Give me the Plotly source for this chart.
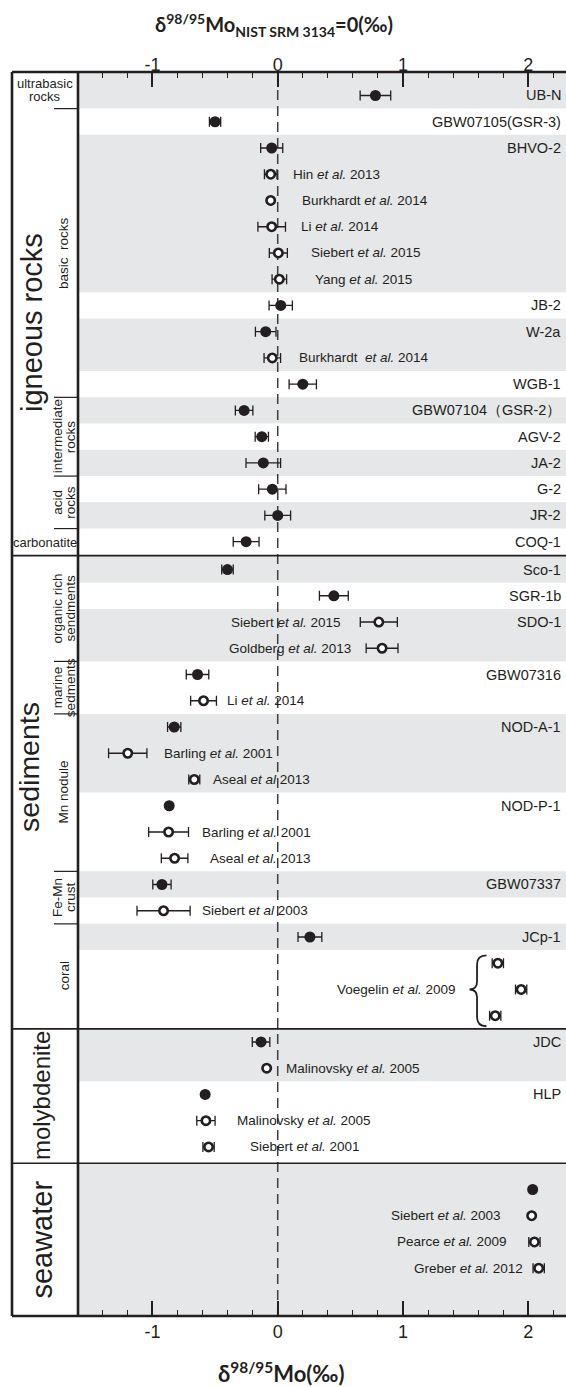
import plotly.graph_objects as go

# ---------------- data ----------------
section_names = ["igneous rocks", "sediments", "molybdenite", "seawater"]
section_sizes = [18, 18, 5, 4]

sample_names = [
    "UB-N", "GBW07105(GSR-3)", "BHVO-2", "", "", "", "", "", "JB-2", "W-2a", "", "WGB-1",
    "GBW07104（GSR-2）", "AGV-2", "JA-2", "G-2", "JR-2", "COQ-1",
    "Sco-1", "SGR-1b", "SDO-1", "", "GBW07316", "", "NOD-A-1", "", "", "NOD-P-1", "", "",
    "GBW07337", "", "JCp-1", "", "", "",
    "JDC", "", "HLP", "", "",
    "", "", "", "",
]
citations = [
    "", "", "", "Hin <i>et al.</i> 2013", "Burkhardt <i>et al.</i> 2014", "Li <i>et al.</i> 2014",
    "Siebert <i>et al.</i> 2015", "Yang <i>et al.</i> 2015", "", "", "Burkhardt  <i>et al.</i> 2014", "",
    "", "", "", "", "", "",
    "", "", "Siebert <i>et al.</i> 2015", "Goldberg <i>et al.</i> 2013", "", "Li <i>et al.</i> 2014",
    "", "Barling <i>et al.</i> 2001", "Aseal <i>et al</i> 2013", "", "Barling <i>et al.</i> 2001",
    "Aseal <i>et al.</i> 2013", "", "Siebert <i>et al</i> 2003", "", "", "Voegelin <i>et al.</i> 2009", "",
    "", "Malinovsky <i>et al.</i> 2005", "", "Malinovsky <i>et al.</i> 2005", "Siebert <i>et al.</i> 2001",
    "", "Siebert <i>et al.</i> 2003", "Pearce <i>et al.</i> 2009", "Greber <i>et al.</i> 2012",
]
values = [
    0.78, -0.50, -0.048, -0.056, -0.056, -0.048, 0.005, 0.013, 0.024, -0.096, -0.043, 0.20,
    -0.268, -0.127, -0.115, -0.043, 0.0, -0.252,
    -0.401, 0.448, 0.807, 0.833, -0.64, -0.592, -0.826, -1.197, -0.666, -0.866, -0.871, -0.823,
    -0.924, -0.911, 0.257, 1.757, 1.943, 1.736,
    -0.133, -0.088, -0.579, -0.573, -0.552,
    2.035, 2.027, 2.049, 2.083,
]
errors = [
    0.122, 0.045, 0.088, 0.05, 0.0, 0.11, 0.072, 0.058, 0.093, 0.082, 0.066, 0.109,
    0.07, 0.053, 0.138, 0.109, 0.103, 0.103,
    0.046, 0.115, 0.148, 0.127, 0.09, 0.103, 0.053, 0.153, 0.044, 0.0, 0.159, 0.106,
    0.073, 0.212, 0.095, 0.045, 0.045, 0.045,
    0.07, 0.0, 0.0, 0.073, 0.045,
    0.0, 0.0, 0.045, 0.045,
]
filled = [
    1, 1, 1, 0, 0, 0, 0, 0, 1, 1, 0, 1, 1, 1, 1, 1, 1, 1,
    1, 1, 0, 0, 1, 0, 1, 0, 0, 1, 0, 0, 1, 0, 1, 0, 0, 0,
    1, 0, 1, 0, 0,
    1, 0, 0, 0,
]
# sub-categories: (text lines, first row, last row, horizontal?)
subgroups = [
    (["ultrabasic", "rocks"], 0, 0, True),
    (["basic  rocks"], 1, 11, False),
    (["intermediate", "rocks"], 12, 14, False),
    (["acid", "rocks"], 15, 16, False),
    (["carbonatite"], 17, 17, True),
    (["organic rich", "sendments"], 18, 21, False),
    (["marine", "sedments"], 22, 23, False),
    (["Mn nodule"], 24, 29, False),
    (["Fe-Mn", "crust"], 30, 31, False),
    (["coral"], 32, 35, False),
]
top_axis_title = "δ<sup>98/95</sup>Mo<sub>NIST SRM 3134</sub>=0(‰)"
bottom_axis_title = "δ<sup>98/95</sup>Mo(‰)"
tick_vals = [-1, 0, 1, 2]
tick_text = ["-1", "0", "1", "2"]

# ---------------- layout parameters ----------------
W, H = 566, 1387
PL, PT, PB = 78, 72, 71
PW, PH = W - PL, H - PT - PB
X_RANGE = [-1.594, 2.301]
Y_TOP, Y_BOT = -0.895, 46.5
gap_before = [0.0, 0.06, 0.06, 0.68]
group_sizes = [[1, 1, 6, 1, 2, 1, 1, 1, 1, 1, 1, 1],
               [1, 1, 2, 2, 3, 3, 1, 1, 1, 3],
               [2, 3], [4]]
big_label_pos = [(32, 8.67, 29), (29, 25.58, 28.5), (41, None, 24), (42, None, 29)]
cite_pos = {3: (0.106, "left"), 4: (0.178, "left"), 5: (0.170, "left"), 6: (0.250, "left"),
            7: (0.282, "left"), 10: (0.154, "left"), 20: (0.524, "right"), 21: (0.604, "right"),
            23: (-0.421, "left"), 25: (-0.924, "left"), 26: (-0.532, "left"), 28: (-0.620, "left"),
            29: (-0.556, "left"), 31: (-0.620, "left"), 34: (1.439, "right"), 37: (0.050, "left"),
            39: (-0.341, "left"), 40: (-0.237, "left"), 42: (1.798, "right"), 43: (1.846, "right"),
            44: (1.974, "right")}
INK = "#231f20"
BAND = "#e6e7e8"
FONT = "Liberation Sans, Arial, sans-serif"
TFONT = "Lato, Open Sans, sans-serif"

def px_x(p):
    return (p - PL) / PW

# row positions
ypos, row_sec, sec_first = [], [], []
for s, n in enumerate(section_sizes):
    sec_first.append(len(ypos))
    for k in range(n):
        ypos.append(len(ypos) + gap_before[s])
        row_sec.append(s)

sec_top, sec_bot = [], []
for s in range(len(section_sizes)):
    f = sec_first[s]
    if s == 0:
        sec_top.append(Y_TOP)
    elif s == 3:
        sec_top.append(ypos[f] - 1.0)
    else:
        sec_top.append((ypos[f - 1] + ypos[f]) / 2)
for s in range(len(section_sizes)):
    sec_bot.append(sec_top[s + 1] if s + 1 < len(section_sizes) else Y_BOT)

def row_bounds(first, last):
    s = row_sec[first]
    top = sec_top[s] if first == sec_first[s] else (ypos[first - 1] + ypos[first]) / 2
    s2 = row_sec[last]
    endrow = sec_first[s2] + section_sizes[s2] - 1
    bot = sec_bot[s2] if last == endrow else (ypos[last] + ypos[last + 1]) / 2
    return top, bot

shapes = []
annotations = []

# shaded bands
for s, sizes in enumerate(group_sizes):
    r = sec_first[s]
    for g, n in enumerate(sizes):
        if g % 2 == 0:
            t, b = row_bounds(r, r + n - 1)
            shapes.append(dict(type="rect", xref="paper", yref="y", x0=0, x1=1, y0=t, y1=b,
                               fillcolor=BAND, line=dict(width=0), layer="below"))
        r += n

# dashed zero line
shapes.append(dict(type="line", xref="x", yref="paper", x0=0, x1=0, y0=0, y1=1,
                   line=dict(color="#3c3c3c", width=1.5, dash="10px,6px"), layer="below"))

# section dividers (full width)
for s in range(1, len(section_sizes)):
    shapes.append(dict(type="line", xref="paper", yref="y", x0=px_x(12), x1=1,
                       y0=sec_top[s], y1=sec_top[s], line=dict(color=INK, width=1.6), layer="above"))

# frame
for (x0, y0, x1, y1) in [(px_x(12), 1, 1, 1), (px_x(12), 0, 1, 0),
                         (px_x(12), 0, px_x(12), 1), (0, 0, 0, 1)]:
    shapes.append(dict(type="line", xref="paper", yref="paper", x0=x0, x1=x1, y0=y0, y1=y1,
                       line=dict(color=INK, width=2.6), layer="above"))

# sub-category dividers and labels
for i, (lines, a, b, horiz) in enumerate(subgroups):
    t, bt = row_bounds(a, b)
    if i + 1 < len(subgroups) and row_sec[subgroups[i + 1][1]] == row_sec[a]:
        shapes.append(dict(type="line", xref="paper", yref="y", x0=px_x(54), x1=0,
                           y0=bt, y1=bt, line=dict(color=INK, width=1.2), layer="above"))
    if horiz:
        yc = (t + bt) / 2
        n = len(lines)
        for k, txt in enumerate(lines):
            annotations.append(dict(text=txt, xref="paper", yref="y", x=px_x(45), y=yc,
                                    yshift=-(k - (n - 1) / 2) * 13, showarrow=False,
                                    xanchor="center", yanchor="middle",
                                    font=dict(family=FONT, size=13, color=INK)))
    else:
        yc = (ypos[a] + ypos[b]) / 2
        n = len(lines)
        for k, txt in enumerate(lines):
            annotations.append(dict(text=txt, xref="paper", yref="y", x=px_x(64), y=yc,
                                    xshift=(k - (n - 1) / 2) * 13, showarrow=False, textangle=-90,
                                    xanchor="center", yanchor="middle",
                                    font=dict(family=FONT, size=13.5, color=INK)))

# big section labels
for s, name in enumerate(section_names):
    xp, yr, fs = big_label_pos[s]
    if yr is None:
        yr = (sec_top[s] + sec_bot[s]) / 2
    annotations.append(dict(text=name, xref="paper", yref="y", x=px_x(xp), y=yr, showarrow=False,
                            textangle=-90, xanchor="center", yanchor="middle",
                            font=dict(family=FONT, size=fs, color=INK)))

# sample names (right side)
for i, nm in enumerate(sample_names):
    if nm:
        annotations.append(dict(text=nm, xref="paper", yref="y", x=1, xshift=-3, y=ypos[i],
                                showarrow=False, xanchor="right", yanchor="middle",
                                font=dict(family=FONT, size=14.5, color=INK)))

# citations
for i, c in enumerate(citations):
    if c:
        xv, anc = cite_pos[i]
        annotations.append(dict(text=c, xref="x", yref="y", x=xv, y=ypos[i], showarrow=False,
                                xanchor=anc, yanchor="middle",
                                font=dict(family=FONT, size=13.5, color=INK)))

# brace for the coral (Voegelin) group
cr = [33, 34, 35]
xr = min(values[r] for r in cr) - 0.07
xm = xr - 0.075
xc = xr - 0.135
yt, ymid, yb = ypos[cr[0]] - 0.3, ypos[cr[1]], ypos[cr[2]] + 0.4
path = (f"M{xr},{yt} Q{xm},{yt} {xm},{yt+0.35} L{xm},{ymid-0.3} Q{xm},{ymid} {xc},{ymid} "
        f"Q{xm},{ymid} {xm},{ymid+0.3} L{xm},{yb-0.35} Q{xm},{yb} {xr},{yb}")
shapes.append(dict(type="path", xref="x", yref="y", path=path, line=dict(color=INK, width=1.8)))

# titles
annotations.append(dict(text="<b>" + top_axis_title + "</b>", xref="paper", yref="paper",
                        x=px_x(274), y=1 + 47 / PH, showarrow=False, xanchor="center",
                        yanchor="middle", font=dict(family=TFONT, size=20, color=INK)))
annotations.append(dict(text="<b>" + bottom_axis_title + "</b>", xref="paper", yref="paper",
                        x=px_x(281), y=-(1372 - (H - PB)) / PH, showarrow=False, xanchor="center",
                        yanchor="middle", font=dict(family=TFONT, size=22, color=INK)))

# ---------------- traces ----------------
fig = go.Figure()
for flag, name in [(1, "filled"), (0, "open")]:
    idx = [i for i in range(len(values)) if filled[i] == flag]
    fig.add_trace(go.Scatter(
        x=[values[i] for i in idx], y=[ypos[i] for i in idx], mode="markers", name=name,
        error_x=dict(type="data", array=[errors[i] for i in idx], color=INK, thickness=1.3, width=5),
        marker=dict(symbol="circle", size=11 if flag else 8.4,
                    color=INK if flag else "white",
                    line=dict(color=INK, width=0 if flag else 2.6)),
        hoverinfo="skip", showlegend=False, cliponaxis=False))
fig.add_trace(go.Scatter(x=[None], y=[None], xaxis="x2", showlegend=False, hoverinfo="skip"))

axis_common = dict(range=X_RANGE, showgrid=False, zeroline=False, showline=False,
                   ticks="inside", ticklen=15, tickwidth=1.5, tickcolor=INK,
                   tickvals=tick_vals, ticktext=tick_text,
                   tickfont=dict(family=FONT, size=18, color=INK),
                   minor=dict(dtick=0.2, tick0=0, ticks="inside", ticklen=6, tickwidth=1.2,
                              tickcolor=INK, showgrid=False))

fig.update_layout(
    width=W, height=H, margin=dict(l=PL, r=0, t=PT, b=PB, pad=0),
    paper_bgcolor="white", plot_bgcolor="white",
    xaxis=dict(**axis_common, side="bottom", ticklabelstandoff=3),
    xaxis2=dict(**axis_common, side="top", overlaying="x", matches="x", anchor="y",
                ticklabelstandoff=-4),
    yaxis=dict(range=[Y_BOT, Y_TOP], showgrid=False, zeroline=False, showline=False,
               showticklabels=False, ticks=""),
    shapes=shapes, annotations=annotations, showlegend=False,
)

fig.write_html("out.html", config={"displayModeBar": False},
               post_script="document.body.style.margin='0';")
